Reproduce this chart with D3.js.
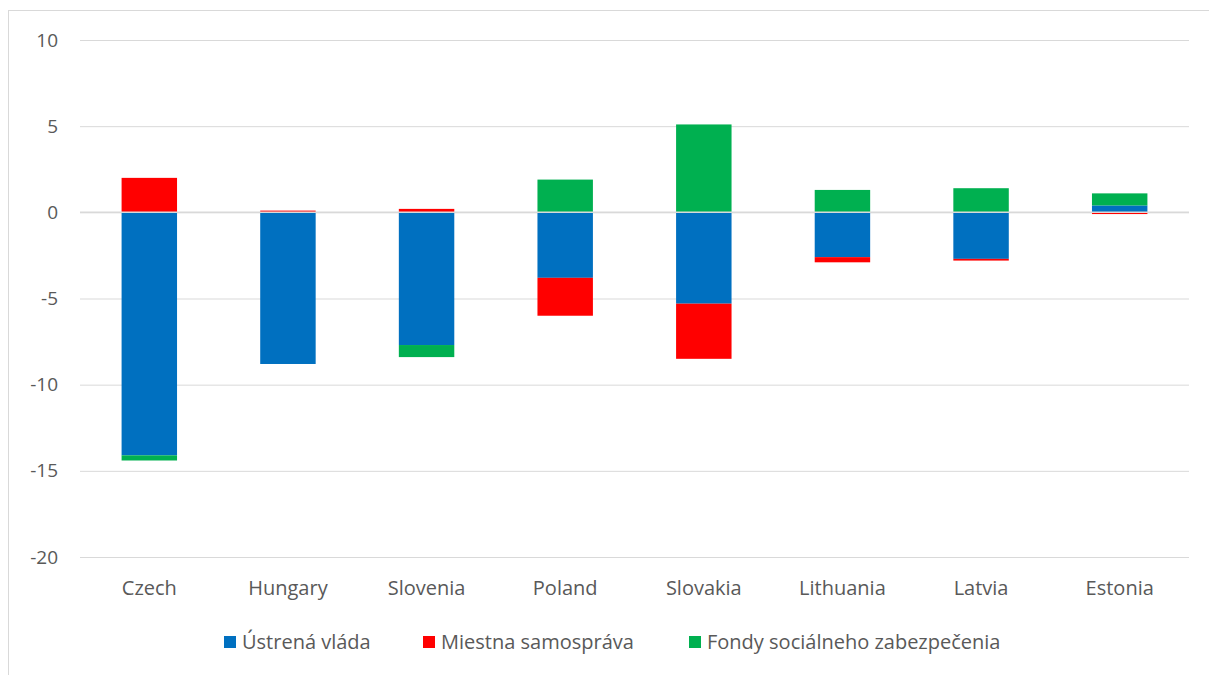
<!DOCTYPE html>
<html>
<head>
<meta charset="utf-8">
<script src="https://cdn.jsdelivr.net/npm/d3@7"></script>
<style>
  body { margin: 0; background: #fff; }
  text { font-family: "Open Sans", sans-serif; fill: #595959; }
</style>
</head>
<body>
<script>
var countries = ["Czech", "Hungary", "Slovenia", "Poland", "Slovakia", "Lithuania", "Latvia", "Estonia"];
var ustrena   = [-14.1, -8.8, -7.7, -3.8, -5.3, -2.6, -2.7,  0.4];
var miestna   = [  2.0,  0.1,  0.2, -2.2, -3.2, -0.3, -0.1, -0.1];
var fondy     = [ -0.3,  0.0, -0.7,  1.9,  5.1,  1.3,  1.4,  0.7];
var seriesNames = ["Ústrená vláda", "Miestna samospráva", "Fondy sociálneho zabezpečenia"];
var colors = ["#0070c0", "#ff0000", "#00b050"];
var yTicks = [10, 5, 0, -5, -10, -15, -20];

var W = 1209, H = 675;
var margin = {top: 40, right: 20, bottom: 118, left: 80},
    width = 1189 - margin.left,
    height = 557 - margin.top;

var rows = countries.map(function(c, i) {
  return {country: c, s0: ustrena[i], s1: miestna[i], s2: fondy[i]};
});
var stack = d3.stack().keys(["s0", "s1", "s2"]).offset(d3.stackOffsetDiverging);
var layers = stack(rows);

var svg = d3.select("body").append("svg")
    .attr("width", W).attr("height", H);

// chart frame
svg.append("rect")
    .attr("x", 8.5).attr("y", 10.5)
    .attr("width", W).attr("height", H)
    .attr("fill", "none").attr("stroke", "#d9d9d9");

var x = d3.scaleBand().domain(countries).range([0, width]).paddingInner(0.6).paddingOuter(0.3);
var y = d3.scaleLinear().domain([-20, 10]).range([height, 0]);

var g = svg.append("g").attr("transform", "translate(" + margin.left + "," + margin.top + ")");

// gridlines + y labels
var yAxis = g.append("g")
    .call(d3.axisLeft(y).tickValues(yTicks).tickSize(-width).tickFormat(function(d) { return String(d); }));
yAxis.select(".domain").remove();
yAxis.selectAll(".tick line").attr("stroke", "#d9d9d9").attr("stroke-width", 1);
yAxis.selectAll(".tick text").attr("x", -22).attr("font-size", "19px").attr("fill", "#595959");

// bars
g.selectAll("g.layer")
  .data(layers)
  .enter().append("g")
    .attr("class", "layer")
    .attr("fill", function(d, i) { return colors[i]; })
  .selectAll("rect")
  .data(function(d) { return d; })
  .enter().append("rect")
    .attr("x", function(d) { return x(d.data.country); })
    .attr("y", function(d) { return y(Math.max(d[0], d[1])); })
    .attr("width", x.bandwidth())
    .attr("height", function(d) { return Math.abs(y(d[0]) - y(d[1])); });

// zero line drawn above bars
g.append("line")
    .attr("x1", 0).attr("x2", width)
    .attr("y1", y(0)).attr("y2", y(0))
    .attr("stroke", "#d9d9d9").attr("stroke-width", 1.5);

// x labels
var xAxis = g.append("g")
    .attr("transform", "translate(0," + height + ")")
    .call(d3.axisBottom(x).tickSize(0).tickPadding(24));
xAxis.select(".domain").remove();
xAxis.selectAll("text").attr("font-size", "20px").attr("fill", "#595959");

// legend
var legendX = [224, 423, 689];
var legend = svg.append("g").selectAll("g")
  .data(seriesNames)
  .enter().append("g")
    .attr("transform", function(d, i) { return "translate(" + legendX[i] + ",642)"; });
legend.append("rect")
    .attr("x", 0).attr("y", -6).attr("width", 12).attr("height", 12)
    .attr("fill", function(d, i) { return colors[i]; });
legend.append("text")
    .attr("x", 18).attr("dy", "0.35em")
    .attr("font-size", "20px")
    .text(function(d) { return d; });
</script>
</body>
</html>
